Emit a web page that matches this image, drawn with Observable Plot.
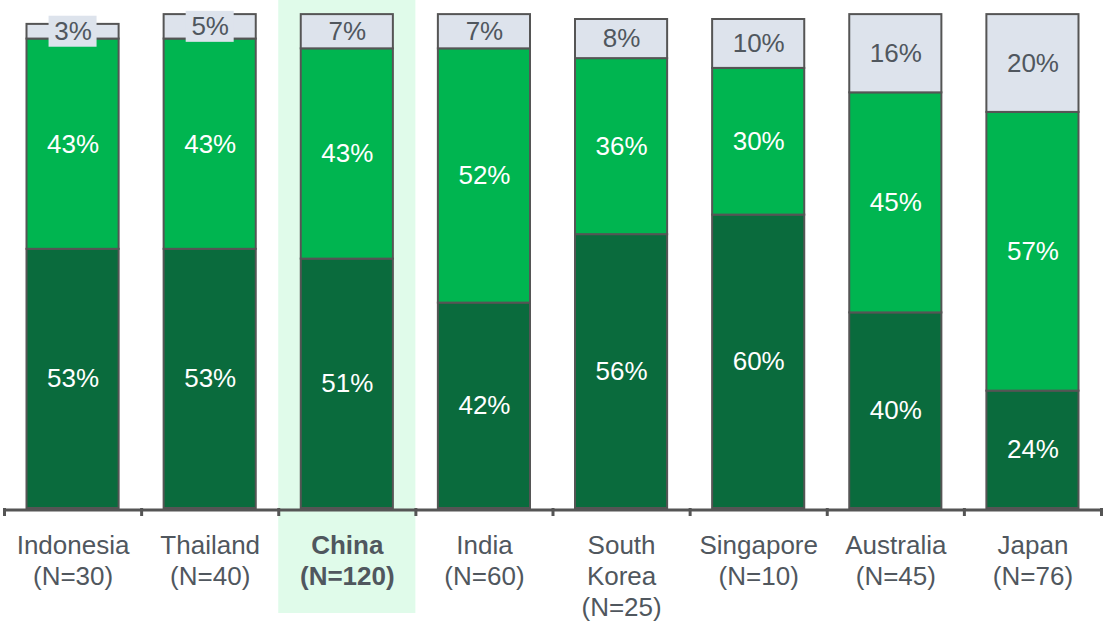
<!DOCTYPE html>
<html>
<head>
<meta charset="utf-8">
<script src="https://cdn.jsdelivr.net/npm/d3@7"></script>
<script src="https://cdn.jsdelivr.net/npm/@observablehq/plot@0.6"></script>
<style>
  html, body { margin: 0; padding: 0; background: #ffffff; }
  #chart svg { display: block; }
</style>
</head>
<body>
<div id="chart"></div>
<script>
// ---- Data ----
const countries = ["Indonesia", "Thailand", "China", "India", "South Korea", "Singapore", "Australia", "Japan"];
const tickLabels = ["Indonesia\n(N=30)", "Thailand\n(N=40)", "China\n(N=120)", "India\n(N=60)", "South\nKorea\n(N=25)", "Singapore\n(N=10)", "Australia\n(N=45)", "Japan\n(N=76)"];
const bottomShare = [53, 53, 51, 42, 56, 60, 40, 24];
const middleShare = [43, 43, 43, 52, 36, 30, 45, 57];
const topShare    = [3, 5, 7, 7, 8, 10, 16, 20];
const highlighted = "China";

const segments = ["bottom", "middle", "top"];
const segmentColors = ["#0a6b3d", "#00b550", "#dde3ec"];

// build stacked rows
const rows = [];
countries.forEach((c, i) => {
  const vals = [bottomShare[i], middleShare[i], topShare[i]];
  let acc = 0;
  vals.forEach((v, k) => {
    rows.push({i, country: c, seg: segments[k], value: v, y1: acc, y2: acc + v});
    acc += v;
  });
});
const idx = d3.range(countries.length);
const hi = countries.indexOf(highlighted);

const gray = "#50575e";
const font = "'Liberation Sans', Arial, sans-serif";

const chart = Plot.plot({
  width: 1104,
  height: 623,
  marginLeft: 4,
  marginRight: 3,
  marginTop: 19,
  marginBottom: 115,
  style: {fontFamily: font, background: "#ffffff"},
  x: {domain: [0, countries.length], axis: null},
  y: {domain: [0, 100], axis: null},
  color: {domain: segments, range: segmentColors},
  marks: [
    // highlight band
    Plot.rect([hi], {x1: d => d, x2: d => d + 1, fill: "#e0fbea", insetTop: -19, insetBottom: -105}),
    // stacked bars
    Plot.rect(rows, {
      x1: d => d.i, x2: d => d.i + 1, y1: "y1", y2: "y2",
      fill: "seg", stroke: "#555555", strokeWidth: 2,
      insetLeft: 22.5, insetRight: 22.5
    }),
    // background box for labels on thin top segments
    Plot.rect(rows.filter(d => d.seg === "top" && d.value < 6), {
      x1: d => d.i + 0.5, x2: d => d.i + 0.5,
      y1: d => (d.y1 + d.y2) / 2, y2: d => (d.y1 + d.y2) / 2,
      fill: "#dde3ec",
      insetLeft: -24, insetRight: -24, insetTop: -15.5, insetBottom: -15.5
    }),
    // value labels
    Plot.text(rows.filter(d => d.seg !== "top"), {
      x: d => d.i + 0.5, y: d => (d.y1 + d.y2) / 2,
      text: d => d.value + "%", fill: "#ffffff", fontSize: 26
    }),
    Plot.text(rows.filter(d => d.seg === "top"), {
      x: d => d.i + 0.5, y: d => (d.y1 + d.y2) / 2,
      text: d => d.value + "%", fill: gray, fontSize: 26
    }),
    // baseline
    Plot.ruleY([0], {stroke: "#555555", strokeWidth: 3, dy: 1.5}),
    // boundary ticks
    Plot.axisX({ticks: d3.range(countries.length + 1), tickSize: 8, tickFormat: () => "", stroke: "#555555", strokeWidth: 3}),
    // category labels
    Plot.text(idx, {
      filter: i => i !== hi,
      x: i => i + 0.5, y: () => 0, text: i => tickLabels[i],
      lineAnchor: "top", lineHeight: 1.2, dy: 23, fontSize: 26, fill: gray
    }),
    Plot.text(idx, {
      filter: i => i === hi,
      x: i => i + 0.5, y: () => 0, text: i => tickLabels[i],
      lineAnchor: "top", lineHeight: 1.2, dy: 23, fontSize: 26, fill: gray, fontWeight: "bold"
    })
  ]
});
document.getElementById("chart").append(chart);
</script>
</body>
</html>
